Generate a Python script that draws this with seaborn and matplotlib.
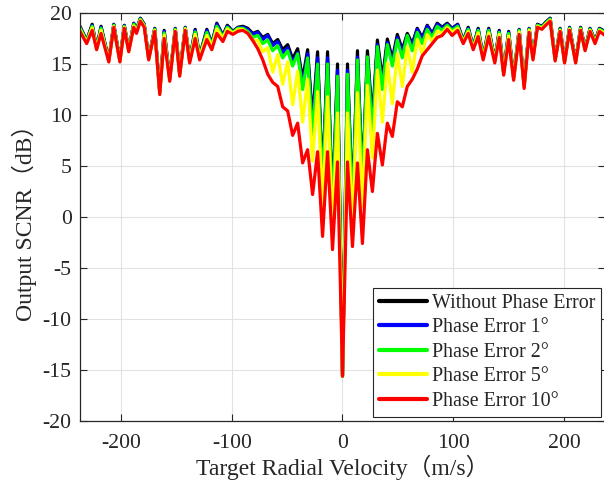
import matplotlib
matplotlib.use("Agg")
import matplotlib.pyplot as plt
import seaborn as sns
import pandas as pd

# Target radial velocity samples (m/s)
velocity = [-237, -231, -226, -222, -218, -211, -206.5, -201, -197, -193, -188.5, -186,
            -182.5, -179, -175, -169.5, -165, -161, -156, -151, -147, -142, -138, -133,
            -129, -122.5, -118, -113.5, -108, -104, -99, -94.5,
            -90, -85.5, -81, -76.5, -72, -67.5, -63, -58.5, -54, -49.5, -45, -40.5, -36,
            -31.5, -27, -22.5, -18, -13.5, -9, -4.5, 0, 4.5, 9, 13.5, 18, 22.5, 27, 31.5,
            36, 40.5, 45, 49.5, 54, 58.5, 63, 67.5, 72, 76.5, 81, 85.5, 90,
            94.5, 99, 104, 109, 113.5, 118, 122.5, 127, 132, 137.5, 141.5, 145.5, 150,
            154.5, 159.5, 164, 168.5, 172, 176, 180, 183.5, 187.5, 192, 196.5, 200.5, 205,
            210.5, 215, 219, 223.5, 228, 232, 237]

scnr_no_error = [18.7, 17.3, 18.9, 16.6, 18.7, 15.4, 18.9, 15.4, 18.8, 16.4, 19.0, 18.4,
                 19.5, 18.9, 15.6, 18.5, 12.3, 18.3, 13.6, 18.5, 14.1, 18.6, 15.4, 18.4,
                 15.8, 18.4, 17.0, 19.0, 17.8, 18.8, 18.2, 18.6,
                 18.7, 18.5, 18.0, 18.2, 17.6, 17.9, 17.0, 17.4, 16.4, 16.9, 15.5, 16.5, 13.5,
                 16.4, 9.5, 16.2, 3.5, 16.2, 1.0, 15.0, -15.6, 15.0, 1.0, 16.3, 3.5, 16.3, 9.5,
                 17.35, 13.5, 17.45, 15.5, 17.9, 16.4, 18.0, 17.0, 18.5, 17.6, 18.8, 18.0, 19.0, 18.6,
                 19.0, 18.5, 18.9, 17.3, 18.6, 16.7, 18.5, 15.7, 18.5, 15.4, 18.3, 14.2, 18.2,
                 13.7, 18.4, 12.9, 18.5, 15.7, 18.9, 18.7, 19.1, 19.5, 15.5, 18.5, 15.3, 18.6,
                 15.3, 18.6, 16.5, 18.5, 17.3, 18.5, 18.2]

scnr_err1 = [18.6, 17.25, 18.8, 16.55, 18.6, 15.35, 18.85, 15.35, 18.75, 16.35, 18.95, 18.35,
             19.45, 18.85, 15.55, 18.45, 12.25, 18.2, 13.55, 18.45, 14.05, 18.55, 15.35, 18.3,
             15.75, 18.3, 16.95, 18.9, 17.75, 18.7, 18.15, 18.55,
             18.6, 18.4, 17.9, 18.1, 17.4, 17.8, 16.8, 17.2, 16.1, 16.6, 15.2, 16.1, 13.0,
             16.0, 9.0, 15.6, 3.0, 15.6, 0.5, 14.4, -15.6, 14.4, 0.5, 15.7, 3.0, 15.7, 9.0,
             16.9, 13.0, 17.1, 15.2, 17.6, 16.1, 17.8, 16.8, 18.4, 17.4, 18.7, 17.9, 18.9, 18.5,
             18.9, 18.45, 18.85, 17.25, 18.5, 16.65, 18.4, 15.65, 18.4, 15.35, 18.2, 14.15, 18.1,
             13.65, 18.35, 12.85, 18.45, 15.65, 18.85, 18.65, 19.05, 19.45, 15.45, 18.45, 15.25,
             18.55, 15.25, 18.55, 16.45, 18.45, 17.25, 18.45, 18.15]

scnr_err2 = [18.55, 17.2, 18.7, 16.5, 18.5, 15.3, 18.8, 15.3, 18.7, 16.3, 18.9, 18.3,
             19.4, 18.8, 15.5, 18.4, 12.2, 18.05, 13.5, 18.4, 14.0, 18.5, 15.3, 18.15,
             15.7, 18.1, 16.85, 18.7, 17.65, 18.6, 18.1, 18.5,
             18.5, 18.2, 17.6, 17.8, 17.0, 17.35, 16.3, 16.8, 15.6, 16.3, 14.8, 16.0, 12.5,
             15.6, 8.0, 15.0, 2.5, 15.0, 0.0, 13.8, -15.6, 14.0, 0.0, 15.4, 2.5, 15.7, 8.0,
             16.7, 12.5, 16.9, 14.8, 17.35, 15.6, 17.8, 16.3, 18.1, 17.0, 18.4, 17.6, 18.7, 18.3,
             18.8, 18.3, 18.7, 17.2, 18.4, 16.6, 18.3, 15.6, 18.3, 15.3, 18.1, 14.1, 18.0,
             13.6, 18.3, 12.8, 18.4, 15.6, 18.8, 18.6, 19.0, 19.4, 15.4, 18.4, 15.2, 18.5,
             15.2, 18.5, 16.4, 18.4, 17.2, 18.4, 18.1]

scnr_err5 = [18.4, 17.1, 18.55, 16.45, 18.3, 15.25, 18.7, 15.25, 18.6, 16.25, 18.75, 18.15,
             19.3, 18.7, 15.45, 18.3, 12.1, 17.85, 13.4, 18.3, 13.9, 18.45, 15.2, 17.9,
             15.6, 17.8, 16.7, 18.45, 17.5, 18.45, 18.0, 18.4,
             18.4, 18.0, 17.3, 17.3, 16.2, 16.6, 14.2, 15.9, 13.0, 15.2, 11.0, 14.3, 9.3,
             13.5, 5.5, 12.3, 1.0, 11.8, -1.0, 10.2, -15.6, 10.2, -1.0, 12.2, 1.0, 12.9, 5.8,
             14.4, 9.3, 15.1, 11.1, 16.0, 12.8, 16.7, 14.2, 17.4, 16.0, 17.9, 17.2, 18.2, 18.0,
             18.6, 18.1, 18.5, 17.1, 18.2, 16.5, 18.05, 15.5, 18.05, 15.2, 17.9, 14.0, 17.75,
             13.5, 18.15, 12.7, 18.3, 15.5, 18.7, 18.5, 18.9, 19.3, 15.35, 18.3, 15.15, 18.4,
             15.15, 18.4, 16.35, 18.3, 17.1, 18.3, 18.0]

scnr_err10 = [18.2, 17.0, 18.3, 16.4, 18.0, 15.2, 18.6, 15.2, 18.5, 16.2, 18.6, 18.0,
              19.2, 18.6, 15.4, 18.2, 12.0, 17.5, 13.3, 18.2, 13.8, 18.3, 15.1, 17.5,
              15.4, 17.4, 16.4, 18.0, 17.2, 18.2, 17.9, 18.2,
              18.3, 18.0, 17.3, 16.5, 15.4, 14.0, 13.2, 12.8, 10.8, 10.4, 8.0, 9.2, 5.3,
              6.6, 2.2, 6.4, -1.9, 6.4, -3.2, 5.4, -15.6, 5.4, -2.9, 5.3, -2.6, 6.6, 2.5,
              8.2, 5.1, 9.2, 7.9, 11.3, 10.8, 12.8, 13.5, 14.5, 15.8, 16.4, 17.0, 17.6, 17.8,
              18.4, 17.8, 18.3, 17.0, 18.0, 16.4, 17.7, 15.4, 17.7, 15.1, 17.6, 13.9, 17.4,
              13.4, 17.9, 12.6, 18.1, 15.4, 18.6, 18.4, 18.8, 19.2, 15.3, 18.2, 15.1, 18.3,
              15.1, 18.3, 16.3, 18.2, 17.0, 18.2, 17.8]

series_labels = ["Without Phase Error", "Phase Error 1°", "Phase Error 2°",
                 "Phase Error 5°", "Phase Error 10°"]
series_values = [scnr_no_error, scnr_err1, scnr_err2, scnr_err5, scnr_err10]
series_colors = ["#000000", "#0000ff", "#00ff00", "#ffff00", "#ff0000"]

x_ticks = [-200, -100, 0, 100, 200]
y_ticks = [-20, -15, -10, -5, 0, 5, 10, 15, 20]

sns.set_style("ticks")
plt.rcParams["font.family"] = ["Liberation Serif", "Noto Sans CJK SC"]
plt.rcParams["axes.unicode_minus"] = False
plt.rcParams["xtick.direction"] = "in"
plt.rcParams["ytick.direction"] = "in"
plt.rcParams["xtick.top"] = True
plt.rcParams["ytick.right"] = True

fig = plt.figure(figsize=(6.04, 4.83), dpi=100)
ax = fig.add_axes([80 / 604, 62 / 483, 525 / 604, 408 / 483])

for lab, vals, col in zip(series_labels, series_values, series_colors):
    df = pd.DataFrame({"v": velocity, "s": vals})
    sns.lineplot(data=df, x="v", y="s", color=col, lw=2.3, label=lab,
                 ax=ax, estimator=None, sort=False)

ax.set_xlim(-237, 237)
ax.set_ylim(-20, 20)
ax.set_xticks(x_ticks)
ax.set_yticks(y_ticks)
ax.grid(True, color="#e2e2e2", lw=0.8)
ax.set_axisbelow(True)
for sp in ax.spines.values():
    sp.set_color("#262626")
    sp.set_linewidth(0.9)
ax.tick_params(axis="both", which="both", length=5, width=0.8, color="#262626",
               labelsize=15.7, labelcolor="#262626")
ax.tick_params(axis="x", pad=9)
ax.tick_params(axis="y", pad=6)

ax.set_xlabel("Target Radial Velocity（m/s）", fontsize=17, color="#262626", labelpad=2)
ax.set_ylabel("Output SCNR（dB）", fontsize=17, color="#262626", labelpad=4)

leg = ax.legend(loc="lower left", bbox_to_anchor=(0.558, 0.0098), borderaxespad=0,
                fontsize=14.4, frameon=True, fancybox=False, framealpha=1,
                edgecolor="#262626", handlelength=2.4, handletextpad=0.25,
                labelspacing=0.28, borderpad=0.3)
leg.get_frame().set_linewidth(0.8)
for line in leg.get_lines():
    line.set_linewidth(3)

fig.savefig("out.png", dpi=100)
